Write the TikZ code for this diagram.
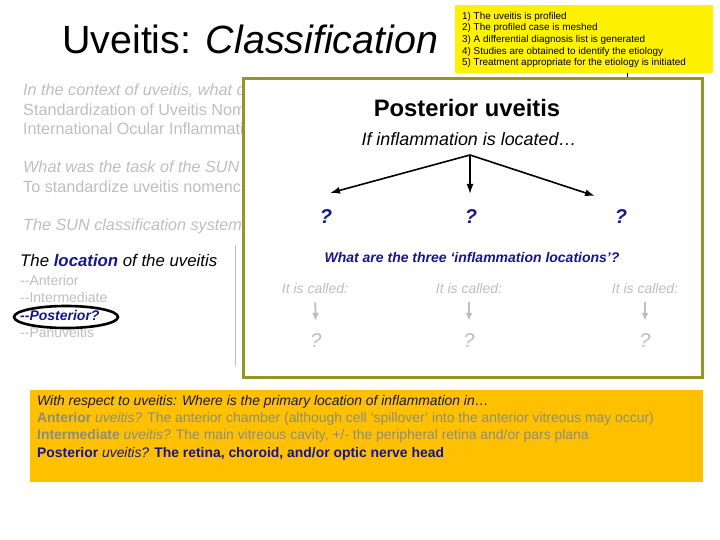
\documentclass[tikz,border=0pt]{standalone}
\usepackage{fontspec}
\setmainfont{Liberation Sans}
\usetikzlibrary{arrows.meta, positioning, shapes.geometric}

\definecolor{frameolive}{RGB}{150,150,40}
\definecolor{navyq}{RGB}{22,22,140}
\definecolor{faint}{RGB}{190,190,190}
\definecolor{boxorange}{RGB}{255,192,0}
\definecolor{ansgray}{RGB}{140,140,128}
\definecolor{darknavy}{RGB}{25,25,75}

\newcommand{\fs}[1]{\fontsize{#1}{#1}\selectfont}

\begin{document}
\begin{tikzpicture}[x=1pt, y=-1pt,
    txt/.style={anchor=base west, inner sep=0pt},
    faded/.style={txt, text=faint, font=\fs{16.2}},
    qmark/.style={anchor=base, inner sep=0pt, text=navyq, font=\fs{20}\bfseries\itshape},
    greyq/.style={anchor=base, inner sep=0pt, text=faint, font=\fs{20}\itshape},
    called/.style={anchor=base, inner sep=0pt, text=faint, font=\fs{14}\itshape},
    fork/.style={-{Latex[length=10pt,width=7pt]}, line width=1.6pt},
    greyarrow/.style={-{Latex[length=8pt,width=7pt]}, line width=1.8pt, draw=faint},
    orline/.style={txt, font=\fs{13.9}}]

        \useasboundingbox (0,0) rectangle (720,540);

        % title
        \node[txt, font=\fs{39.4}] (title) at (62,54) {Uveitis: \textit{Classification}};

        % the five steps
        \draw[fill=yellow, draw=none] (455,5) rectangle (713,73);
        \foreach \step [count=\i] in {1) The uveitis is profiled,
                2) The profiled case is meshed,
                3) A differential diagnosis list is generated,
                4) Studies are obtained to identify the etiology,
                5) Treatment appropriate for the etiology is initiated}
            \node[txt, font=\fs{9.9}] (step\i) at (462, 7.5+\i*11.7) {\step};
        \draw[thick] (627,73) -- (627,78);

        % left column, cut off by the card
        \node[faded, font=\fs{16.2}\itshape] (qa) at (23,96) {In the context of uveitis, what d};
        \node[faded] (qb) at (23,115.5) {Standardization of Uveitis Nomencl};
        \node[faded] (qc) at (23,135) {International Ocular Inflammation};
        \node[faded, font=\fs{16.2}\itshape] (qd) at (23,173) {What was the task of the SUN};
        \node[faded] (qe) at (23,192.5) {To standardize uveitis nomencla};
        \node[faded, font=\fs{16.2}\itshape] (qf) at (23,230.5) {The SUN classification system};

        \node[txt, font=\fs{16.8}\itshape] (loc) at (20,266)
            {The \textcolor{navyq}{\bfseries location} of the uveitis};
        \node[txt, text=faint, font=\fs{14}] (ant) at (20,285) {-{}-Anterior};
        \node[txt, text=faint, font=\fs{14}] (int) at (20,302.5) {-{}-Intermediate};
        \node[txt, text=navyq, font=\fs{14}\bfseries\itshape] (post) at (20,320) {-{}-Posterior?};
        \node[txt, text=faint, font=\fs{14}] (pan) at (20,337.5) {-{}-Panuveitis};
        \draw[line width=2.6pt] (66,317) ellipse [x radius=52pt, y radius=11pt];
        \draw[faint] (235,245) -- (235,366);

        % the card
        \draw[line width=3pt, draw=frameolive, fill=white] (243,79) rectangle (702,377);

        \node[anchor=base, inner sep=0pt, font=\fs{23.8}\bfseries] (head) at (467,117) {Posterior uveitis};
        \node[anchor=base, inner sep=0pt, font=\fs{17.9}\itshape] (if) at (469,146) {If inflammation is located\dots};

        \coordinate (top) at (470,155);
        \coordinate (endl) at (330,193);
        \coordinate (endm) at (470,194);
        \coordinate (endr) at (595,196);
        \draw[fork] (top) -- (endl);
        \draw[fork] (top) -- (endm);
        \draw[fork] (top) -- (endr);

        \node[qmark] (q1) at (326,223) {?};
        \node[qmark] (q2) at (471,223) {?};
        \node[qmark] (q3) at (621,223) {?};

        \node[anchor=base, inner sep=0pt, text=navyq, font=\fs{14}\bfseries\itshape] (three) at (472,262)
            {What are the three `inflammation locations'?};

        \node[called] (c1) at (315,293) {It is called:};
        \node[called] (c2) at (469,293) {It is called:};
        \node[called] (c3) at (645,293) {It is called:};

        \node[greyq] (g1) at (316,347) {?};
        \node[greyq] (g2) at (469,347) {?};
        \node[greyq] (g3) at (645,347) {?};

        \foreach \i in {1,2,3}
            \draw[greyarrow, shorten <=9pt, shorten >=12pt] (c\i) -- (g\i);

        % answer box
        \draw[fill=boxorange, draw=none] (30,390) rectangle (703,482);
        \node[orline, text=darknavy, font=\fs{13.9}\itshape] (ans0) at (37,405.5)
            {With respect to uveitis: Where is the primary location of inflammation in\dots};
        \node[orline, text=ansgray] (ans1) at (37,422)
            {\textbf{Anterior} \textit{uveitis?} The anterior chamber (although cell `spillover' into the anterior vitreous may occur)};
        \node[orline, text=ansgray] (ans2) at (37,439.5)
            {\textbf{Intermediate} \textit{uveitis?} The main vitreous cavity, +/- the peripheral retina and/or pars plana};
        \node[orline, text=navyq] (ans3) at (37,457)
            {\textbf{Posterior} \textit{uveitis?} \textbf{The retina, choroid, and/or optic nerve head}};

\end{tikzpicture}
\end{document}
